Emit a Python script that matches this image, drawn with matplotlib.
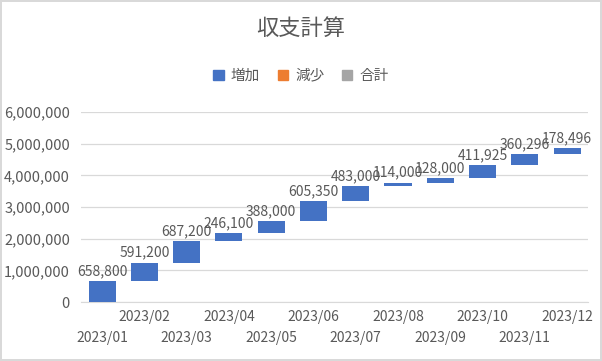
import numpy as np
import matplotlib.pyplot as plt
from matplotlib.patches import Patch
from matplotlib.ticker import FuncFormatter

plt.rcParams['font.family'] = ['Noto Sans CJK JP', 'DejaVu Sans']

# data
months = ["2023/01", "2023/02", "2023/03", "2023/04", "2023/05", "2023/06",
          "2023/07", "2023/08", "2023/09", "2023/10", "2023/11", "2023/12"]
changes = [658800, 591200, 687200, 246100, 388000, 605350,
           483000, 114000, 128000, 411925, 360296, 178496]

blue = "#4472C4"
orange = "#ED7D31"
gray = "#A5A5A5"
text_col = "#595959"

cum = np.cumsum(changes)
bottoms = cum - np.array(changes)
x = np.arange(len(months))

fig = plt.figure(figsize=(6.02, 3.61), dpi=100)
fig.patch.set_edgecolor("#D9D9D9")
fig.patch.set_linewidth(1.5)
ax = fig.add_axes([0.1346, 0.163, 0.8424, 0.527])

ax.bar(x, changes, bottom=bottoms, width=0.64, color=blue, zorder=3)
for xi, top, v in zip(x, cum, changes):
    ax.annotate(f"{v:,}", (xi, top), xytext=(0, 2), textcoords="offset points",
                ha="center", va="bottom", fontsize=10, color=text_col, zorder=4)

ax.set_xlim(-0.5, len(months) - 0.5)
ax.set_ylim(0, 6000000)
ax.set_yticks(np.arange(0, 6000001, 1000000))
ax.yaxis.set_major_formatter(FuncFormatter(lambda v, p: f"{int(v):,}"))
ax.grid(axis="y", color="#D9D9D9", linewidth=0.9, zorder=0)

# staggered month labels: even months on the upper row, odd months below
ax.set_xticks(x[1::2])
ax.set_xticklabels(months[1::2])
ax.set_xticks(x[0::2], minor=True)
ax.set_xticklabels(months[0::2], minor=True)
ax.tick_params(axis="both", which="both", length=0, labelsize=10, colors=text_col)
ax.tick_params(axis="x", which="major", pad=6)
ax.tick_params(axis="x", which="minor", pad=21)
ax.tick_params(axis="y", labelsize=10.5, pad=8)
for s in ["top", "right", "left"]:
    ax.spines[s].set_visible(False)
ax.spines["bottom"].set_color("#D9D9D9")

fig.text(0.5, 0.92, "収支計算", ha="center", va="center", fontsize=16, color=text_col)
handles = [Patch(color=blue, label="増加"), Patch(color=orange, label="減少"),
           Patch(color=gray, label="合計")]
fig.legend(handles=handles, loc="center", bbox_to_anchor=(0.5, 0.79), ncol=3,
           frameon=False, fontsize=10.5, labelcolor=text_col, handlelength=0.7,
           handleheight=0.7, handletextpad=0.5, columnspacing=1.2)

fig.savefig("out.png", dpi=100)
